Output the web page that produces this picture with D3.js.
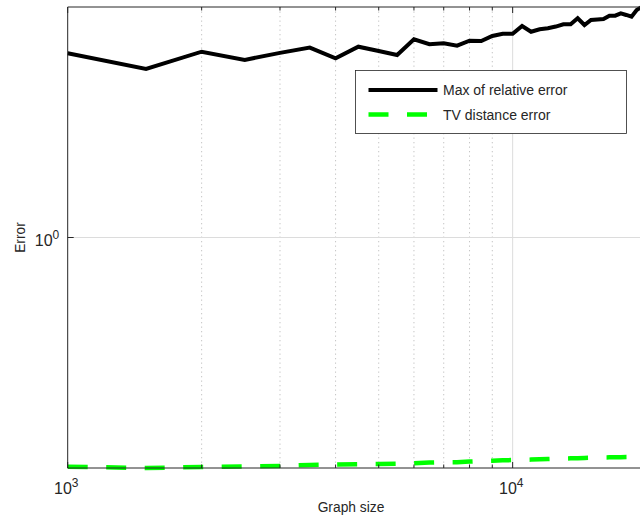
<!DOCTYPE html>
<html>
<head>
<meta charset="utf-8">
<script src="https://cdn.jsdelivr.net/npm/d3@7"></script>
<style>
  body { margin: 0; background: #fff; }
  text { font-family: "Liberation Sans", Arial, sans-serif; fill: #262626; }
</style>
</head>
<body>
<svg id="chart" width="640" height="521"></svg>
<script>
// graph sizes (x) and the two error curves
const graphSizes = [
  1000, 1500, 2000, 2500, 3000, 3500, 4000, 4500, 5000, 5500,
  6000, 6500, 7000, 7500, 8000, 8500, 9000, 9500, 10000, 10500,
  11000, 11500, 12000, 12500, 13000, 13500, 14000, 14500, 15000, 15500,
  16000, 16500, 17000, 17500, 18000, 18500, 19000, 19500,
];
const maxRelErr = [
  2.080, 1.954, 2.093, 2.026, 2.083, 2.127, 2.039, 2.135, 2.099, 2.066,
  2.199, 2.156, 2.164, 2.144, 2.187, 2.184, 2.228, 2.248, 2.248, 2.318,
  2.266, 2.288, 2.297, 2.313, 2.334, 2.334, 2.390, 2.327, 2.374, 2.379,
  2.384, 2.415, 2.415, 2.438, 2.422, 2.405, 2.471, 2.500,
];
const tvDistErr = [
  0.4021, 0.4000, 0.4016, 0.4024, 0.4032, 0.4048, 0.4056, 0.4061, 0.4064, 0.4069,
  0.4075, 0.4088, 0.4093, 0.4093, 0.4104, 0.4112, 0.4117, 0.4124, 0.4128, 0.4131,
  0.4136, 0.4141, 0.4144, 0.4149, 0.4154, 0.4157, 0.4160, 0.4163, 0.4167, 0.4170,
  0.4172, 0.4173, 0.4175, 0.4176, 0.4178, 0.4179, 0.4181, 0.4184,
];
const seriesNames = ['Max of relative error', 'TV distance error'];
const xMajorTicks = [1000, 10000];
const xMinorTicks = [2000, 3000, 4000, 5000, 6000, 7000, 8000, 9000, 20000];
const yMajorTicks = [1];

const width = 640;
const height = 521;
const margin = { top: 7, right: -6.6, bottom: 53, left: 67.7 };
const innerWidth = width - margin.left - margin.right;
const innerHeight = height - margin.top - margin.bottom;
const axisColor = '#262626';

const svg = d3.select('#chart');

const xScale = d3.scaleLog().domain([1000, 20000]).range([0, innerWidth]);
const yScale = d3.scaleLog().domain([0.4, 2.5]).range([innerHeight, 0]);

const g = svg
  .append('g')
  .attr('transform', `translate(${margin.left},${margin.top})`);

// grid lines
g.selectAll('.minor-grid')
  .data(xMinorTicks)
  .join('line')
  .attr('class', 'minor-grid')
  .attr('x1', xScale)
  .attr('x2', xScale)
  .attr('y1', 0)
  .attr('y2', innerHeight)
  .attr('stroke', '#c4c4c4')
  .attr('stroke-width', 1)
  .attr('stroke-dasharray', '1.3,3.2');

g.selectAll('.major-grid-x')
  .data(xMajorTicks.slice(1))
  .join('line')
  .attr('class', 'major-grid-x')
  .attr('x1', xScale)
  .attr('x2', xScale)
  .attr('y1', 0)
  .attr('y2', innerHeight)
  .attr('stroke', '#dcdcdc');

g.selectAll('.major-grid-y')
  .data(yMajorTicks)
  .join('line')
  .attr('class', 'major-grid-y')
  .attr('x1', 0)
  .attr('x2', innerWidth)
  .attr('y1', yScale)
  .attr('y2', yScale)
  .attr('stroke', '#dcdcdc');

// data lines
const line = (values) =>
  d3
    .line()
    .x((d, i) => xScale(graphSizes[i]))
    .y((d) => yScale(d))(values);

g.append('path')
  .attr('d', line(maxRelErr))
  .attr('fill', 'none')
  .attr('stroke', '#000')
  .attr('stroke-width', 4)
  .attr('stroke-linejoin', 'miter');

g.append('path')
  .attr('d', line(tvDistErr))
  .attr('fill', 'none')
  .attr('stroke', '#00ff00')
  .attr('stroke-width', 4.5)
  .attr('stroke-dasharray', '20,18.5');

// axes box (left, top, bottom)
g.append('line')
  .attr('x1', 0).attr('x2', 0)
  .attr('y1', 0).attr('y2', innerHeight)
  .attr('stroke', axisColor);
g.append('line')
  .attr('x1', 0).attr('x2', innerWidth)
  .attr('y1', 0).attr('y2', 0)
  .attr('stroke', axisColor);
g.append('line')
  .attr('x1', 0).attr('x2', innerWidth)
  .attr('y1', innerHeight).attr('y2', innerHeight)
  .attr('stroke', axisColor);

// inward ticks, top and bottom
const xTicks = [
  ...xMajorTicks.map((v) => ({ v, len: 6 })),
  ...xMinorTicks.map((v) => ({ v, len: 3.5 })),
];
g.selectAll('.tick-bottom')
  .data(xTicks)
  .join('line')
  .attr('class', 'tick-bottom')
  .attr('x1', (d) => xScale(d.v))
  .attr('x2', (d) => xScale(d.v))
  .attr('y1', innerHeight)
  .attr('y2', (d) => innerHeight - d.len)
  .attr('stroke', axisColor);
g.selectAll('.tick-top')
  .data(xTicks)
  .join('line')
  .attr('class', 'tick-top')
  .attr('x1', (d) => xScale(d.v))
  .attr('x2', (d) => xScale(d.v))
  .attr('y1', 0)
  .attr('y2', (d) => d.len)
  .attr('stroke', axisColor);
g.selectAll('.tick-left')
  .data(yMajorTicks)
  .join('line')
  .attr('class', 'tick-left')
  .attr('x1', 0)
  .attr('x2', 6)
  .attr('y1', yScale)
  .attr('y2', yScale)
  .attr('stroke', axisColor);

// tick labels as 10^n
const powerLabel = (sel) => {
  sel.append('tspan').attr('font-size', 16).text('10');
  sel
    .append('tspan')
    .attr('font-size', 12)
    .attr('dy', -6.5)
    .text((d) => Math.round(Math.log10(d)));
};

g.selectAll('.x-label')
  .data(xMajorTicks)
  .join('text')
  .attr('class', 'x-label')
  .attr('x', (d) => xScale(d) - 1.4)
  .attr('y', innerHeight + 25.5)
  .attr('text-anchor', 'middle')
  .call(powerLabel);

g.selectAll('.y-label')
  .data(yMajorTicks)
  .join('text')
  .attr('class', 'y-label')
  .attr('x', -8.4)
  .attr('y', (d) => yScale(d) + 8)
  .attr('text-anchor', 'end')
  .call(powerLabel);

// axis titles
svg.append('text')
  .attr('x', 351)
  .attr('y', 512)
  .attr('text-anchor', 'middle')
  .attr('font-size', 13.8)
  .text('Graph size');

svg.append('text')
  .attr('transform', `translate(24.5,${margin.top + yScale(1)}) rotate(-90)`)
  .attr('text-anchor', 'middle')
  .attr('font-size', 13.8)
  .text('Error');

// legend
const legendG = svg.append('g').attr('transform', 'translate(355.5,70.5)');
legendG.append('rect')
  .attr('width', 271)
  .attr('height', 63)
  .attr('fill', '#fff')
  .attr('stroke', axisColor)
  .attr('stroke-width', 0.8);

const legendItems = [
  { name: seriesNames[0], color: '#000', dash: null, y: 19.5 },
  { name: seriesNames[1], color: '#00ff00', dash: '20,18.5', y: 44 },
];
const legendRows = legendG
  .selectAll('.legend-row')
  .data(legendItems)
  .join('g')
  .attr('class', 'legend-row')
  .attr('transform', (d) => `translate(0,${d.y})`);
legendRows.append('line')
  .attr('x1', 13)
  .attr('x2', 82)
  .attr('stroke', (d) => d.color)
  .attr('stroke-width', (d) => (d.dash ? 4.5 : 4))
  .attr('stroke-dasharray', (d) => d.dash);
legendRows.append('text')
  .attr('x', 87.5)
  .attr('y', 5)
  .attr('font-size', 14)
  .text((d) => d.name);
</script>
</body>
</html>
